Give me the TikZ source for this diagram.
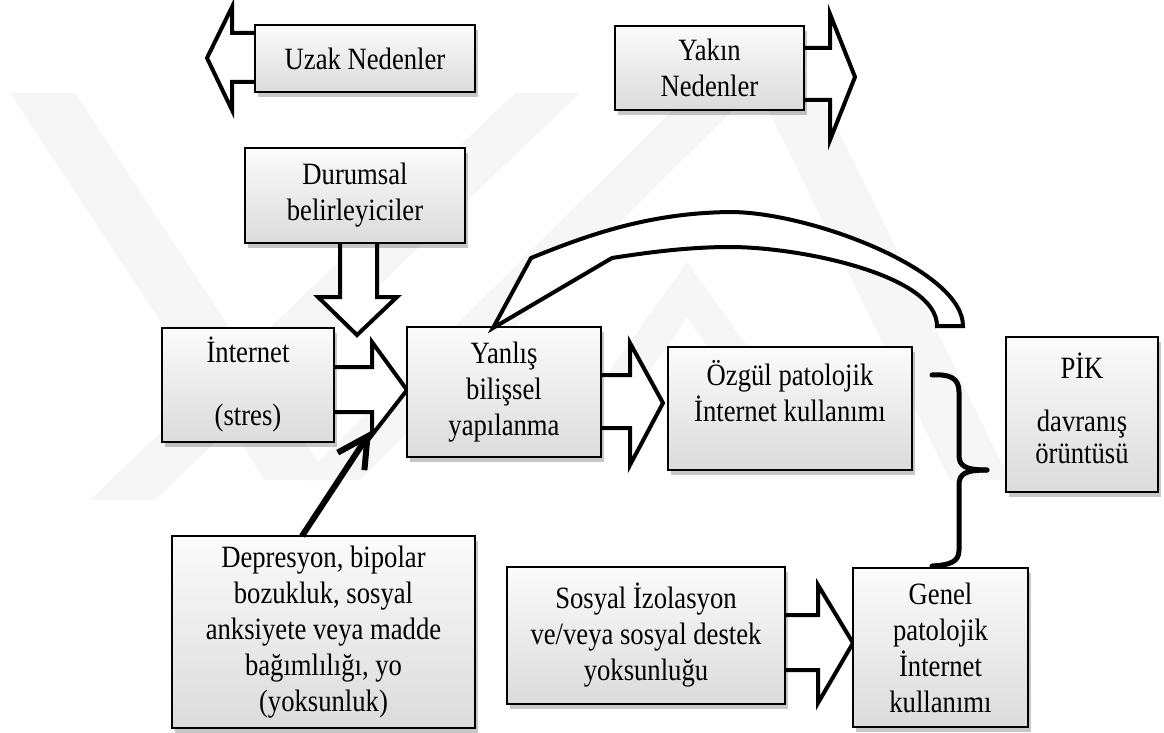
\documentclass[tikz,border=0pt]{standalone}
\usepackage{fontspec}
\setmainfont[FakeStretch=0.86]{Liberation Serif}
\usetikzlibrary{shadows,arrows.meta}
\begin{document}
\begin{tikzpicture}[x=1pt,y=-1pt,
  box/.style={draw=black,line width=1.6pt,top color=gray!3,bottom color=gray!28,
    inner sep=0pt,align=center,font=\fontsize{31}{36}\selectfont,
    drop shadow={shadow xshift=3pt,shadow yshift=-5pt,fill=black,opacity=0.22}},
  blockarrow/.style={draw=black,fill=white,line width=4pt,line join=miter,miter limit=10},
  wm/.style={fill=gray!7,draw=none},
  bracestyle/.style={draw=black,line width=5pt,line cap=round,line join=round},
  thinarrow/.style={draw=black,line width=6pt,-{Straight Barb[length=30pt,width=32pt]}}
]
\useasboundingbox[fill=white] (0,0) rectangle (1164,733);

% faint background watermark
\fill[wm] (10,93) -- (75,93) -- (330,480) -- (265,480) -- cycle;
\fill[wm] (515,93) -- (580,93) -- (155,500) -- (90,500) -- cycle;
\fill[wm] (690,93) -- (750,93) -- (360,480) -- (300,480) -- cycle;
\fill[wm] (760,93) -- (820,93) -- (1010,480) -- (950,480) -- cycle;
\fill[wm] (687,262) -- (800,420) -- (760,420) -- (687,318) -- (614,420) -- (574,420) -- cycle;

% block arrows
\draw[blockarrow] (265,33) -- (232,33) -- (232,7) -- (207,58) -- (232,110) -- (232,82) -- (265,82) -- cycle;
\draw[blockarrow] (795,48) -- (830,48) -- (830,14) -- (855,77) -- (830,140) -- (830,100) -- (795,100) -- cycle;
\draw[blockarrow] (340,235) -- (340,297) -- (318,297) -- (357,335) -- (397,297) -- (377,297) -- (377,235) -- cycle;
\draw[blockarrow] (325,367) -- (372,367) -- (372,342) -- (407,390) -- (372,435) -- (372,412) -- (325,412) -- cycle;
\draw[blockarrow] (592,375) -- (630,375) -- (630,343) -- (663,403) -- (630,465) -- (630,428) -- (592,428) -- cycle;
\draw[blockarrow] (777,615) -- (818,615) -- (818,585) -- (853,643) -- (818,703) -- (818,670) -- (777,670) -- cycle;

% boxes
\node[box,minimum width=220pt,minimum height=67pt] (uzak) at (365,58.5) {Uzak Nedenler};
\node[box,minimum width=189pt,minimum height=84pt] (yakin) at (709.5,68) {Yakın\\Nedenler};
\node[box,minimum width=220pt,minimum height=95pt] (durumsal) at (355,195.5) {Durumsal\\belirleyiciler};
\node[box,minimum width=172pt,minimum height=114pt] (internet) at (248,385) {İnternet\\[27pt](stres)};
\node[box,minimum width=194pt,minimum height=130pt] (yanlis) at (504,392) {Yanlış\\bilişsel\\yapılanma};
\node[box,minimum width=244pt,minimum height=123pt] (ozgul) at (790,408.5) {Özgül patolojik\\İnternet kullanımı\\\mbox{}};
\node[box,minimum width=152pt,minimum height=155pt] (pik) at (1082,414.5) {PİK\\[17pt]davranış\\[-4pt]örüntüsü\\[-23pt]\mbox{}};
\node[box,minimum width=303pt,minimum height=192pt] (dep) at (323.5,632) {Depresyon, bipolar\\bozukluk, sosyal\\anksiyete veya madde\\bağımlılığı, yo\\(yoksunluk)};
\node[box,minimum width=278pt,minimum height=137pt] (sosyal) at (646,635.5) {Sosyal İzolasyon\\ve/veya sosyal destek\\yoksunluğu};
\node[box,minimum width=175pt,minimum height=159pt] (genel) at (940.5,647.5) {Genel\\patolojik\\İnternet\\kullanımı};

% feedback curved block arrow from PIK to Yanlis
\draw[blockarrow] (493,328) -- (531,258)
  .. controls (590,234) and (650,213) .. (730,212)
  .. controls (810,212) and (963,270) .. (963,326)
  -- (937,326)
  .. controls (937,275) and (800,247) .. (730,247)
  .. controls (690,247) and (650,252) .. (612,258) -- cycle;

% arrow from Depresyon to the junction
\coordinate (deptop) at (302,536);
\coordinate (deptip) at (371,431);
\draw[thinarrow] (deptop) -- (deptip);

% brace
\draw[bracestyle] (932,375) .. controls (950,374) and (959,378) .. (959,392)
  -- (959,455) .. controls (959,466) and (965,470) .. (987,470);
\draw[bracestyle] (987,470) .. controls (965,470) and (959,474) .. (959,485)
  -- (959,550) .. controls (959,562) and (950,565) .. (932,566);
\end{tikzpicture}
\end{document}
